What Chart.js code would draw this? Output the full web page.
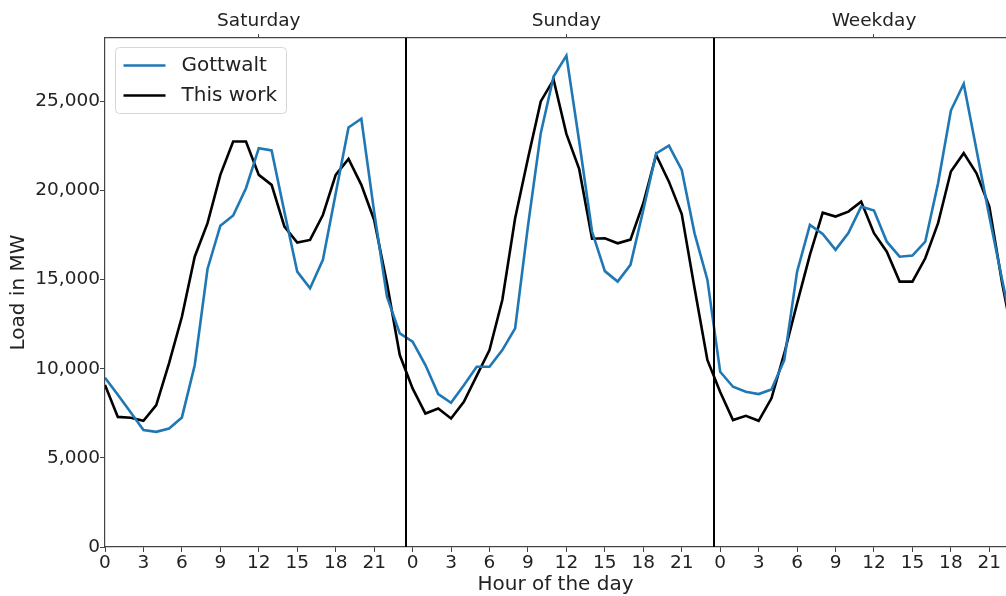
<!DOCTYPE html>
<html><head><meta charset="utf-8">
<script src="https://cdn.jsdelivr.net/npm/chart.js@4.4.0/dist/chart.umd.min.js"></script>
<style>html,body{margin:0;padding:0;background:#fff;overflow:hidden}canvas{display:block}</style>
</head><body>
<canvas id="c" width="1006" height="596"></canvas>
<script>
// ---- data ----
const days = ['Saturday', 'Sunday', 'Weekday'];
const hourTicks = [0, 3, 6, 9, 12, 15, 18, 21];
const yTicks = [0, 5000, 10000, 15000, 20000, 25000];

const gottwaltSaturday = [9500, 8540, 7560, 6560, 6460, 6650, 7270, 10200, 15600, 18030, 18600, 20130, 22380, 22250, 18800, 15450, 14520, 16110, 19830, 23540, 24030, 18800, 14050, 11990];
const gottwaltSunday   = [11520, 10210, 8580, 8090, 9080, 10110, 10110, 11050, 12270, 18000, 23220, 26400, 27570, 22750, 17700, 15480, 14890, 15830, 18910, 22080, 22520, 21160, 17600, 15000];
const gottwaltWeekday  = [9830, 8990, 8710, 8580, 8840, 10490, 15450, 18070, 17560, 16670, 17610, 19100, 18880, 17130, 16290, 16350, 17130, 20410, 24490, 25990, 22270, 18540, 15000, 11500];

const thisWorkSaturday = [9090, 7300, 7250, 7080, 7960, 10320, 12920, 16290, 18170, 20880, 22750, 22750, 20880, 20320, 17980, 17080, 17230, 18630, 20880, 21780, 20320, 18350, 14800, 10770];
const thisWorkSunday   = [8900, 7490, 7770, 7210, 8150, 9600, 11050, 13860, 18450, 21800, 25000, 26220, 23180, 21200, 17300, 17320, 17040, 17250, 19290, 22000, 20500, 18680, 14520, 10500];
const thisWorkWeekday  = [8700, 7120, 7360, 7080, 8340, 10860, 13670, 16390, 18760, 18540, 18820, 19380, 17610, 16570, 14890, 14890, 16200, 18170, 21070, 22100, 20970, 19100, 14800, 11100];

const dayBoundaries = [23.5, 47.5];
const dayCenters = [12, 36, 60];
const xMax = 70.3;
const yMax = 28560;

// ---- build ----
const gottwalt = [].concat(gottwaltSaturday, gottwaltSunday, gottwaltWeekday);
const thisWork = [].concat(thisWorkSaturday, thisWorkSunday, thisWorkWeekday);
const toXY = arr => arr.map((v, i) => ({x: i, y: v}));
const bottomTicks = [];
days.forEach((d, di) => hourTicks.forEach(h => bottomTicks.push(di * 24 + h)));

const FONT = 'DejaVu Sans';
const TXT = '#222';
const AX = '#444';

const boundaryPlugin = {
  id: 'boundaries',
  afterDatasetsDraw(chart) {
    const {ctx, chartArea, scales} = chart;
    ctx.save();
    ctx.strokeStyle = '#000';
    ctx.lineWidth = 2;
    dayBoundaries.forEach(b => {
      const px = Math.round(scales.x.getPixelForValue(b));
      ctx.beginPath();
      ctx.moveTo(px, chartArea.top);
      ctx.lineTo(px, chartArea.bottom);
      ctx.stroke();
    });
    ctx.restore();
  }
};

const legendPlugin = {
  id: 'boxLegend',
  afterDraw(chart) {
    const {ctx, chartArea} = chart;
    const x0 = chartArea.left + 10.5, y0 = chartArea.top + 9.5, w = 171, h = 66, r = 4;
    ctx.save();
    ctx.beginPath();
    ctx.moveTo(x0 + r, y0);
    ctx.lineTo(x0 + w - r, y0);
    ctx.quadraticCurveTo(x0 + w, y0, x0 + w, y0 + r);
    ctx.lineTo(x0 + w, y0 + h - r);
    ctx.quadraticCurveTo(x0 + w, y0 + h, x0 + w - r, y0 + h);
    ctx.lineTo(x0 + r, y0 + h);
    ctx.quadraticCurveTo(x0, y0 + h, x0, y0 + h - r);
    ctx.lineTo(x0, y0 + r);
    ctx.quadraticCurveTo(x0, y0, x0 + r, y0);
    ctx.closePath();
    ctx.fillStyle = 'rgba(255,255,255,0.85)';
    ctx.fill();
    ctx.strokeStyle = '#d6d6d6';
    ctx.lineWidth = 1;
    ctx.stroke();
    ctx.font = '20px "' + FONT + '"';
    ctx.textBaseline = 'middle';
    ctx.textAlign = 'left';
    chart.data.datasets.forEach((ds, i) => {
      const yy = y0 + 18 + i * 30;
      ctx.beginPath();
      ctx.strokeStyle = ds.borderColor;
      ctx.lineWidth = ds.borderWidth;
      ctx.moveTo(x0 + 8, yy);
      ctx.lineTo(x0 + 50, yy);
      ctx.stroke();
      ctx.fillStyle = TXT;
      ctx.fillText(ds.label, x0 + 66, yy);
    });
    ctx.restore();
  }
};

new Chart(document.getElementById('c'), {
  type: 'line',
  data: {
    datasets: [
      {label: 'Gottwalt', data: toXY(gottwalt), borderColor: '#1f77b4', borderWidth: 2.6, pointRadius: 0, tension: 0, xAxisID: 'x', yAxisID: 'y'},
      {label: 'This work', data: toXY(thisWork), borderColor: '#000000', borderWidth: 2.6, pointRadius: 0, tension: 0, xAxisID: 'x', yAxisID: 'y'}
    ]
  },
  options: {
    responsive: false,
    animation: false,
    devicePixelRatio: 1,
    layout: {padding: 0},
    plugins: {legend: {display: false}, tooltip: {enabled: false}},
    scales: {
      x: {
        type: 'linear', position: 'bottom', min: 0, max: xMax,
        afterBuildTicks: s => { s.ticks = bottomTicks.map(v => ({value: v})); },
        afterFit: s => { s.height = 49; },
        ticks: {callback: v => String(v % 24), font: {family: FONT, size: 18.5}, color: TXT, padding: 0, maxRotation: 0, autoSkip: false},
        grid: {drawOnChartArea: false, tickLength: 5, color: AX, tickWidth: 1},
        border: {display: true, color: AX, width: 1.2},
        title: {display: true, text: 'Hour of the day', font: {family: FONT, size: 20}, color: TXT, padding: {top: 0, bottom: -1}}
      },
      x2: {
        type: 'linear', position: 'top', min: 0, max: xMax,
        afterBuildTicks: s => { s.ticks = dayCenters.map(v => ({value: v})); },
        afterFit: s => { s.height = 38; },
        ticks: {callback: v => days[dayCenters.indexOf(v)], font: {family: FONT, size: 18.5}, color: TXT, padding: 2, maxRotation: 0, autoSkip: false},
        grid: {drawOnChartArea: false, tickLength: 4, color: AX, tickWidth: 1},
        border: {display: true, color: AX, width: 1.2}
      },
      y: {
        type: 'linear', position: 'left', min: 0, max: yMax,
        afterBuildTicks: s => { s.ticks = yTicks.map(v => ({value: v})); },
        afterFit: s => { s.width = 105; },
        ticks: {callback: v => v.toLocaleString('en-US'), font: {family: FONT, size: 18.5}, color: TXT, padding: 0},
        grid: {drawOnChartArea: false, tickLength: 5, color: AX, tickWidth: 1},
        border: {display: true, color: AX, width: 1.2},
        title: {display: true, text: 'Load in MW', font: {family: FONT, size: 20}, color: TXT, padding: {top: 7, bottom: 0}}
      }
    }
  },
  plugins: [boundaryPlugin, legendPlugin]
});
</script>
</body></html>
